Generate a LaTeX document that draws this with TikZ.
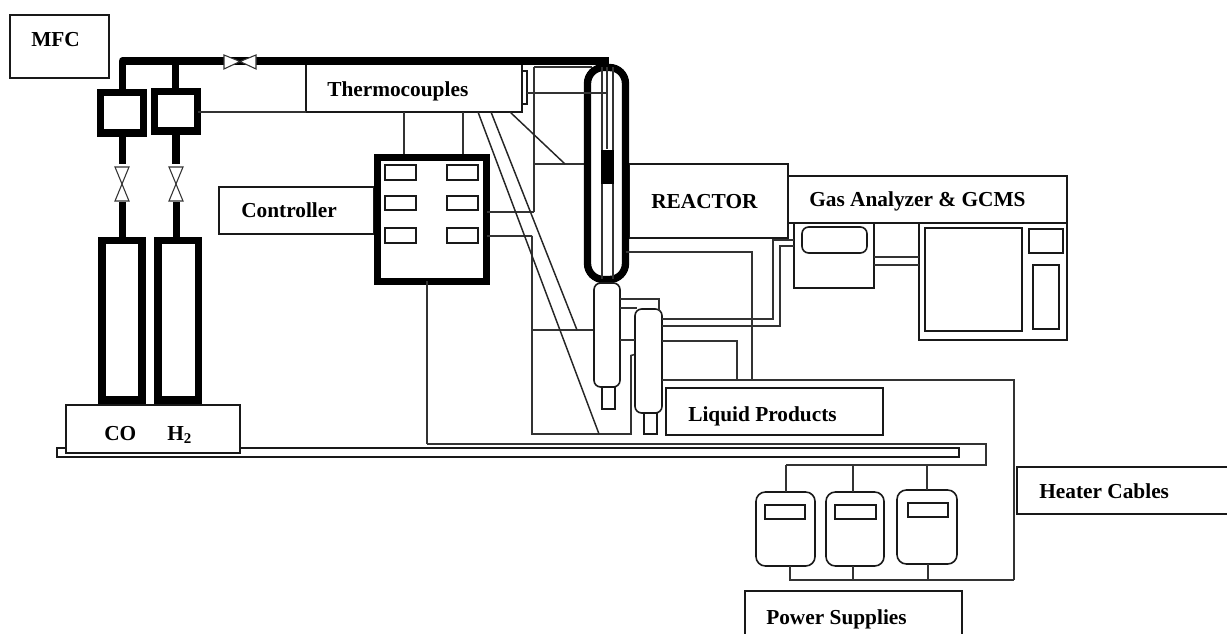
\documentclass[tikz,border=0pt]{standalone}
\usepackage{fontspec}
\setmainfont{Liberation Serif}
\newcommand{\bx}[6][plain]{\node[#1,minimum width={(#5-#3)*0.75pt},minimum height={(#6-#4)*0.75pt}] (#2) at ({(#3+#5)/2},{(#4+#6)/2}) {};}
\tikzset{
  plain/.style={draw=black!90,line width=1.15pt,fill=white,inner sep=0pt,outer sep=0pt},
  hollow/.style={draw=black!90,line width=1.15pt,inner sep=0pt,outer sep=0pt},
  heavy/.style={draw=black,line width=5.4pt,fill=white,inner sep=0pt,outer sep=0pt},
  vessel/.style={plain,rounded corners=5pt,line width=1.2pt},
  meter/.style={plain,rounded corners=7pt,line width=1.2pt},
  thin/.style={draw=black!80,line width=1.15pt},
  fine/.style={draw=black!85,line width=1.1pt},
  pipe/.style={draw=black,line width=5.5pt},
  valveh/.style={draw=black!80,line width=.8pt,fill=white},
  lab/.style={font=\fontsize{16}{18}\selectfont\bfseries,inner sep=0pt,anchor=base west},
}
\begin{document}
\begin{tikzpicture}[x=0.75pt,y=-0.75pt]
\useasboundingbox (0,0) rectangle (1227,634);
\begin{scope}[shift={(-0.5,-0.5)}]
% named points
\coordinate (p1) at (123,61.5);
\coordinate (p2) at (176,61.5);
\coordinate (vh) at (240.5,61.5);
\coordinate (pend) at (609.5,61.5);
\coordinate (h1) at (534.5,67.5);
\coordinate (h2) at (534.5,164.5);
\coordinate (h3) at (534.5,212.5);
\coordinate (l1) at (532.5,236.5);
\coordinate (l2) at (532.5,434.5);
\coordinate (l3) at (631.5,434.5);
\coordinate (l4) at (631.5,356);
\coordinate (l5) at (635,355);
\coordinate (bar) at (1014.5,380.5);
\coordinate (barb) at (1014.5,580.5);
\coordinate (htop) at (427.5,444.5);
\coordinate (hr) at (986.5,444.5);
\coordinate (hb) at (986.5,465.5);
\coordinate (hl) at (786.5,465.5);

% heater cable bar
\bx[hollow]{bar1}{57.5}{448.5}{959.5}{457.5}
\draw[thin] (htop) -- (hr) -- (hb) -- (hl);

% boxes behind pipes
\bx[plain]{thermo}{306.5}{61}{522.5}{112.5}
\bx[hollow]{nub}{522.5}{71.5}{527.5}{104.5}

% reactor lines
\draw[thin] (h1) -- (592,67.5) (h1) -- (h3);
\draw[thin] (h2) -- (590,164.5);
\draw[thin] (l1) -- (l2) -- (l3) -- (l4) -- (l5);
\draw[thin] (l1 |- 0,330.5) -- (594,330.5);

% gas pipes
\draw[pipe,line join=round] (123,92) -- (p1) -- (vh);
\draw[pipe] (p2) -- (176,90);
\draw[pipe] (vh) -- (pend);
\bx[heavy]{mfc1}{101}{93}{144}{133.5}
\bx[heavy]{mfc2}{155}{92}{198}{131.5}
\draw[pipe] (123,136) -- (123,165);
\draw[pipe] (176.5,134) -- (176.5,165);
\draw[pipe] (123,203) -- (123,240);
\draw[pipe] (177,203) -- (177,240);
\draw[valveh] (224.5,55.5) -- (240.5,62) -- (224.5,69.5) -- cycle;
\draw[valveh] (256.5,55.5) -- (240.5,62) -- (256.5,69.5) -- cycle;
\draw[valveh] (115.5,167.5) -- (129.5,167.5) -- (122.5,184.5) -- cycle;
\draw[valveh] (115.5,201.5) -- (129.5,201.5) -- (122.5,184.5) -- cycle;
\draw[valveh] (169.5,167.5) -- (183.5,167.5) -- (176.5,184.5) -- cycle;
\draw[valveh] (169.5,201.5) -- (183.5,201.5) -- (176.5,184.5) -- cycle;
\bx[heavy]{cyl1}{102.5}{241}{142.5}{400.5}
\bx[heavy]{cyl2}{158.5}{241}{199}{400.5}

\bx[plain]{mfcb}{10.5}{15.5}{109.5}{78.5}
\bx[plain]{gasb}{66.5}{405.5}{240.5}{453.5}
\draw[thin] (mfc2.east |- 0,112.5) -- (thermo.south west);

% controller
\bx[plain]{ctrlb}{219.5}{187.5}{374}{234.5}
\coordinate (tc1) at (404.5,155);
\coordinate (tc2) at (463.5,155);
\draw[thin] (tc1 |- thermo.south) -- (tc1);
\draw[thin] (tc2 |- thermo.south) -- (tc2);
\bx[heavy]{ctrl}{378}{158}{487}{282}
\bx[plain]{c1}{385.5}{165.5}{416.5}{180.5}
\bx[plain]{c2}{447.5}{165.5}{478.5}{180.5}
\bx[plain]{c3}{385.5}{196.5}{416.5}{210.5}
\bx[plain]{c4}{447.5}{196.5}{478.5}{210.5}
\bx[plain]{c5}{385.5}{228.5}{416.5}{243.5}
\bx[plain]{c6}{447.5}{228.5}{478.5}{243.5}
\draw[thin] (htop) -- (htop |- ctrl.south);
\draw[thin] (h3) -- (h3 -| ctrl.east);
\draw[thin] (l1) -- (l1 -| ctrl.east);

% thermocouple wires
\draw[fine] (478.5,112.5) -- (599.5,434.5);
\draw[fine] (491.5,112.5) -- (577.5,330.5);
\draw[fine] (510.5,112.5) -- (565.5,164.5);

% reactor
\bx[plain]{rbox}{629.5}{164.5}{788.5}{238.5}
\node[draw=black,line width=5.5pt,fill=white,rounded corners=12pt,inner sep=0pt,outer sep=0pt,minimum width=38*.75pt,minimum height=212*.75pt] (reactor) at (607,174) {};
\draw[thin] (602.5,68) -- (602.5,280) (613.5,68) -- (613.5,280) (607.5,68) -- (607.5,150);
\fill[black] (601.5,151) rectangle (614,184.5);
\draw[thin] (nub.east |- 0,93.5) -- (607.5,93.5);
\draw[pipe] (590,61.5) -- (pend);
\draw[thin] (reactor.east |- 0,252.5) -- (752.5,252.5) -- (752.5,380.5);

% condensers
\bx[vessel]{cond1}{594.5}{283.5}{620.5}{387.5}
\bx[plain]{noz1}{602.5}{387.5}{615.5}{409.5}
\bx[vessel]{cond2}{635.5}{309.5}{662.5}{413.5}
\bx[plain]{noz2}{644.5}{413.5}{657.5}{434.5}
\draw[thin] (620.5,299.5) -- (659.5,299.5) -- (659.5,312);
\draw[thin] (620.5,308.5) -- (637,308.5);
\draw[thin] (620.5,340.5) -- (635.5,340.5);
\draw[thin] (662.5,341.5) -- (737.5,341.5) -- (737.5,380.5);
\draw[thin] (662.5,380.5) -- (bar) -- (barb);

% analyser
\bx[plain]{an}{794.5}{222.5}{874.5}{288.5}
\bx[vessel]{ani}{802.5}{227.5}{867.5}{253.5}
\bx[plain]{gc}{919.5}{222.5}{1067.5}{340.5}
\bx[plain]{gc1}{925.5}{228.5}{1022.5}{331.5}
\bx[plain]{gc2}{1029.5}{229.5}{1063.5}{253.5}
\bx[plain]{gc3}{1033.5}{265.5}{1059.5}{329.5}
\draw[thin] (an.east |- 0,257.5) -- (gc.west |- 0,257.5);
\draw[thin] (an.east |- 0,265.5) -- (gc.west |- 0,265.5);
\draw[thin,line join=miter] (662.5,319.5) -- (773.5,319.5) -- (773.5,240.5) -- (an.west |- 0,240.5);
\draw[thin] (662.5,326.5) -- (780.5,326.5) -- (780.5,246.5) -- (an.west |- 0,246.5);
\bx[plain]{gab}{788.5}{176.5}{1067.5}{223.5}

% label boxes
\bx[plain]{liqb}{666.5}{388.5}{883.5}{435.5}
\bx[plain]{heatb}{1017.5}{467.5}{1232}{514.5}

% power supplies
\bx[meter]{ps1}{756.5}{492.5}{815.5}{566.5}
\bx[meter]{ps2}{826.5}{492.5}{884.5}{566.5}
\bx[meter]{ps3}{897.5}{490.5}{957.5}{564.5}
\bx[plain]{d1}{765.5}{505.5}{805.5}{519.5}
\bx[plain]{d2}{835.5}{505.5}{876.5}{519.5}
\bx[plain]{d3}{908.5}{503.5}{948.5}{517.5}
\draw[thin] (hl) -- (hl |- ps1.north);
\draw[thin] (853.5,465.5) -- (853.5,492.5);
\draw[thin] (927.5,465.5) -- (927.5,490.5);
\draw[thin] (790.5,566.5) -- (790.5,580.5) -- (barb);
\draw[thin] (853.5,566.5) -- (853.5,580.5);
\draw[thin] (928.5,564.5) -- (928.5,580.5);
\bx[plain]{psb}{745.5}{591.5}{962.5}{640}

% labels
\node[lab] (tmfc) at (31.5,47) {MFC};
\node[lab] (tthermo) at (327.5,97) {Thermocouples};
\node[lab] (tctrl) at (241.5,218.5) {Controller};
\node[lab] (treact) at (651.5,209.5) {REACTOR};
\node[lab] (tga) at (809.5,207.5) {Gas Analyzer \& GCMS};
\node[lab] (tco) at (104.5,440.5) {CO};
\node[lab] (th2) at (167.5,440.5) {H\textsubscript{2}};
\node[lab] (tliq) at (688.5,421.5) {Liquid Products};
\node[lab] (theat) at (1039.5,498.5) {Heater Cables};
\node[lab] (tpow) at (766.5,624.5) {Power Supplies};
\end{scope}
\end{tikzpicture}
\end{document}
